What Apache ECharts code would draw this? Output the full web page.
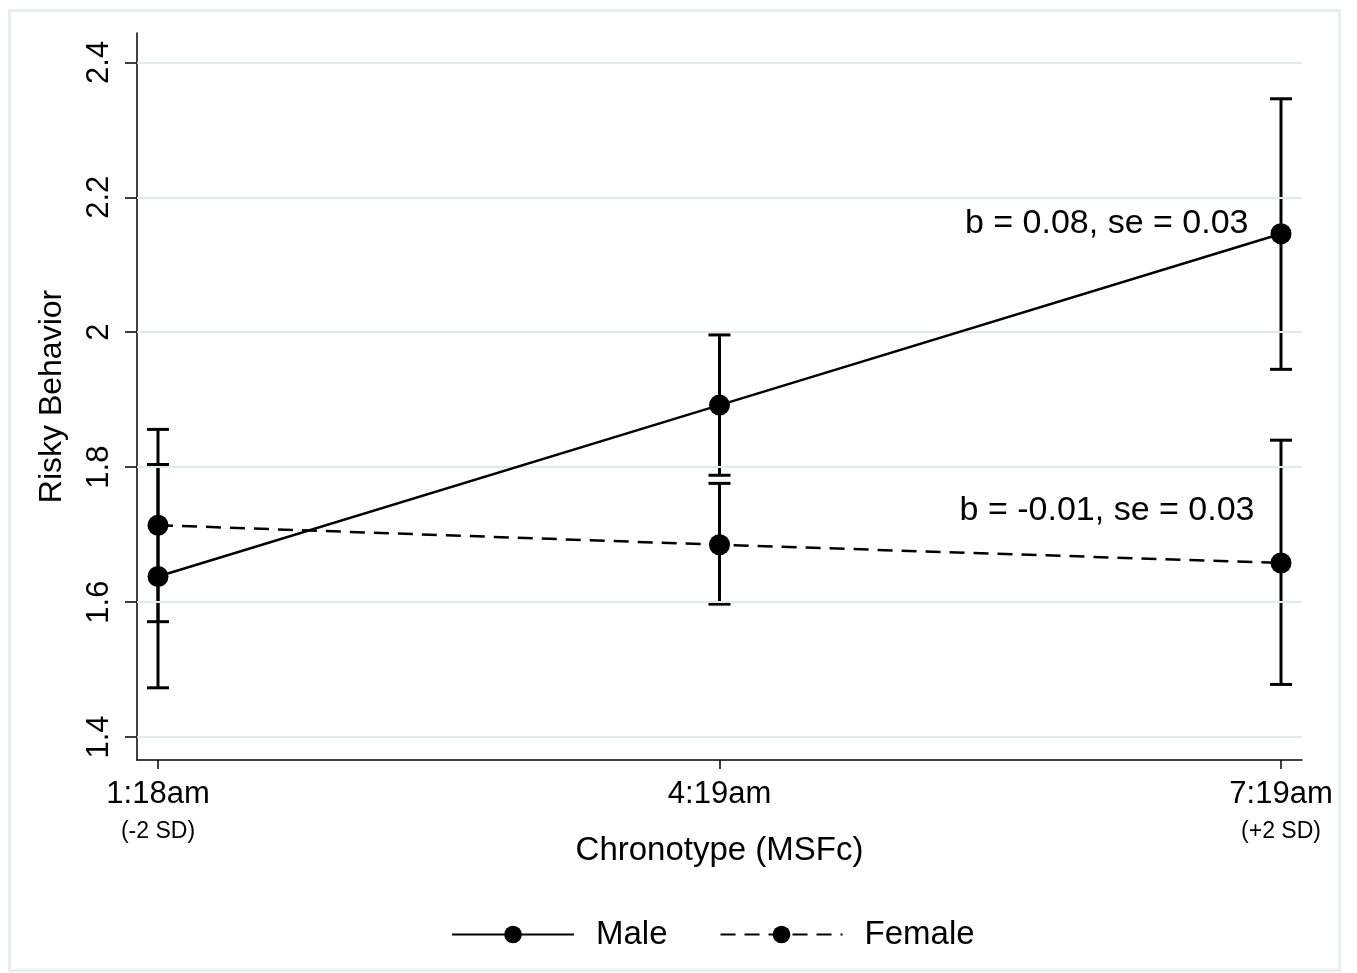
<!DOCTYPE html>
<html>
<head>
<meta charset="utf-8">
<script src="https://cdn.jsdelivr.net/npm/echarts@6/dist/echarts.min.js"></script>
<style>
html,body{margin:0;padding:0;background:#fff;}
#c{width:1357px;height:973px;}
</style>
</head>
<body>
<div id="c"></div>
<script>
// ---- data ----
var xPositions = [0, 1, 2];
var xTickLabels = ['1:18am', '4:19am', '7:19am'];
var xSubLabels = ['(-2 SD)', '', '(+2 SD)'];
var yTicks = [1.4, 1.6, 1.8, 2.0, 2.2, 2.4];

var maleMean = [1.638, 1.892, 2.146];
var maleLow  = [1.473, 1.788, 1.945];
var maleHigh = [1.804, 1.996, 2.346];

var femaleMean = [1.714, 1.685, 1.658];
var femaleLow  = [1.571, 1.597, 1.478];
var femaleHigh = [1.856, 1.776, 1.840];

var maleNote = 'b = 0.08, se = 0.03';
var femaleNote = 'b = -0.01, se = 0.03';

var FONT = '"Liberation Sans", Arial, Helvetica, sans-serif';

function pairs(xs, ys) { return xs.map(function (x, i) { return [x, ys[i]]; }); }
function ebData(xs, lo, hi) { return xs.map(function (x, i) { return [x, lo[i], hi[i]]; }); }

function errorBarRender(params, api) {
  var x = api.value(0);
  var lo = api.coord([x, api.value(1)]);
  var hi = api.coord([x, api.value(2)]);
  var cap = 11;
  var st = { stroke: '#000', lineWidth: 3 };
  return {
    type: 'group',
    children: [
      { type: 'line', shape: { x1: lo[0], y1: lo[1], x2: hi[0], y2: hi[1] }, style: st },
      { type: 'line', shape: { x1: lo[0] - cap, y1: lo[1], x2: lo[0] + cap, y2: lo[1] }, style: st },
      { type: 'line', shape: { x1: hi[0] - cap, y1: hi[1], x2: hi[0] + cap, y2: hi[1] }, style: st }
    ]
  };
}

var maleData = pairs(xPositions, maleMean).map(function (p, i) {
  var d = { value: p };
  if (i === xPositions.length - 1) {
    d.label = { show: true, formatter: maleNote, position: 'left', distance: 22, offset: [0, -10],
      fontSize: 34, fontFamily: FONT, color: '#000' };
  }
  return d;
});
var femaleData = pairs(xPositions, femaleMean).map(function (p, i) {
  var d = { value: p };
  if (i === xPositions.length - 1) {
    d.label = { show: true, formatter: femaleNote, position: 'left', distance: 16, offset: [0, -52],
      fontSize: 34, fontFamily: FONT, color: '#000' };
  }
  return d;
});

var chart = echarts.init(document.getElementById('c'), null, { renderer: 'canvas' });
chart.setOption({
  animation: false,
  backgroundColor: '#fff',
  graphic: [{
    type: 'rect', left: 7, top: 8, silent: true, z: -10,
    shape: { width: 1330, height: 960 },
    style: { fill: 'none', stroke: '#e6eef2', lineWidth: 3 }
  }],
  grid: { left: 137, right: 55, top: 33, bottom: 213, containLabel: false },
  xAxis: {
    type: 'value',
    min: -0.0374, max: 2.0374,
    splitLine: { show: false },
    axisLine: { show: true, onZero: false, lineStyle: { color: '#000', width: 1.5 } },
    axisTick: { show: true, customValues: xPositions, length: 9, lineStyle: { color: '#000', width: 1.5 } },
    axisLabel: {
      show: true, customValues: xPositions, margin: 14,
      formatter: function (v) {
        var i = xPositions.indexOf(Math.round(v));
        var s = '{a|' + xTickLabels[i] + '}';
        s += '\n{b|' + (xSubLabels[i] || ' ') + '}';
        return s;
      },
      rich: {
        a: { fontSize: 31, fontFamily: FONT, color: '#000', lineHeight: 40 },
        b: { fontSize: 23, fontFamily: FONT, color: '#000', lineHeight: 36 }
      }
    },
    name: 'Chronotype (MSFc)', nameLocation: 'middle', nameGap: 91, nameMoveOverlap: false,
    nameTextStyle: { fontSize: 33, fontFamily: FONT, color: '#000', verticalAlign: 'middle' }
  },
  yAxis: {
    type: 'value',
    min: 1.366, max: 2.4435,
    splitLine: { show: false },
    axisLine: { show: true, onZero: false, lineStyle: { color: '#000', width: 1.5 } },
    axisTick: { show: true, customValues: yTicks, length: 12, lineStyle: { color: '#000', width: 1.5 } },
    axisLabel: {
      show: true, customValues: yTicks, rotate: 90, margin: 22,
      fontSize: 31, fontFamily: FONT, color: '#000',
      formatter: function (v) { return String(Math.round(v * 10) / 10); }
    },
    name: 'Risky Behavior', nameLocation: 'middle', nameGap: 69, nameRotate: 90, nameMoveOverlap: false,
    nameTextStyle: { fontSize: 32, fontFamily: FONT, color: '#000' }
  },
  legend: {
    left: 446, top: 913,
    itemWidth: 122, itemHeight: 22, itemGap: 52,
    textStyle: { fontSize: 33, fontFamily: FONT, color: '#000', padding: [0, 0, 0, 17] },
    data: ['Male', 'Female']
  },
  series: [
    {
      name: 'grid', type: 'line', data: [], silent: true,
      markLine: {
        silent: true, symbol: 'none', animation: false,
        label: { show: false },
        lineStyle: { color: '#dfeaee', width: 2, type: 'solid' },
        data: yTicks.map(function (t) { return { yAxis: t }; })
      },
      z: 0
    },
    {
      name: 'Male', type: 'line', data: maleData,
      symbol: 'circle', symbolSize: 21,
      itemStyle: { color: '#000' },
      lineStyle: { color: '#000', width: 2.5, type: 'solid' },
      z: 5
    },
    {
      name: 'Female', type: 'line', data: femaleData,
      symbol: 'circle', symbolSize: 21,
      itemStyle: { color: '#000' },
      lineStyle: { color: '#000', width: 2.5, type: [15, 9] },
      z: 5
    },
    {
      name: 'maleEB', type: 'custom', renderItem: errorBarRender,
      data: ebData(xPositions, maleLow, maleHigh), z: 4, silent: true,
      encode: { x: 0, y: [1, 2] }
    },
    {
      name: 'femaleEB', type: 'custom', renderItem: errorBarRender,
      data: ebData(xPositions, femaleLow, femaleHigh), z: 4, silent: true,
      encode: { x: 0, y: [1, 2] }
    }
  ]
});
</script>
</body>
</html>
